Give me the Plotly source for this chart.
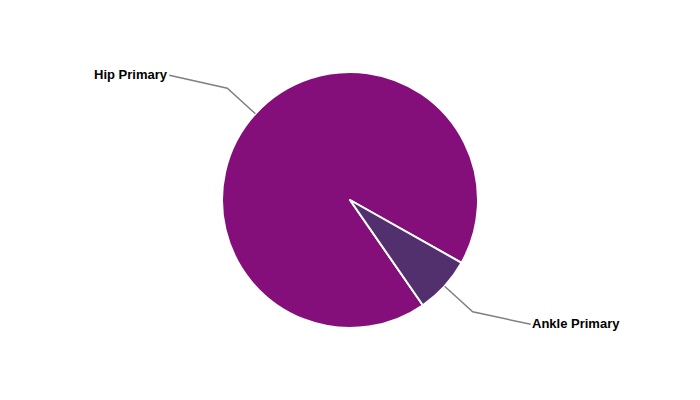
import math
import plotly.graph_objects as go

# Data
labels = ["Hip Primary", "Ankle Primary"]
values = [92.8, 7.2]
colors = ["#850F7A", "#52306E"]

W, H = 700, 400
OFF = 8  # page body margin offset
CX, CY, R = 350 - OFF, 200 - OFF, 128
ROTATION = 145.3  # start angle of first slice, clockwise from 12 o'clock

fig = go.Figure()
fig.add_trace(go.Pie(
    labels=labels,
    values=values,
    sort=False,
    direction="clockwise",
    rotation=ROTATION,
    textinfo="none",
    marker=dict(colors=colors, line=dict(color="white", width=2)),
    domain=dict(x=[(CX - R) / W, (CX + R) / W], y=[1 - (CY + R) / H, 1 - (CY - R) / H]),
    showlegend=False,
))

def px2paper(x, y):
    return x / W, 1 - y / H

total = sum(values)
start = ROTATION
shapes = []
annotations = []
for lab, v in zip(labels, values):
    span = v / total * 360
    mid = math.radians(start + span / 2)
    start += span
    sx, sy = math.sin(mid), -math.cos(mid)
    p0 = (CX + R * sx, CY + R * sy)
    p1 = (CX + (R + 38) * sx, CY + (R + 38) * sy)
    side = 1 if sx >= 0 else -1
    p2 = (p1[0] + side * 58, p1[1] + (12.5 if sy >= 0 else -13))
    pts = [px2paper(*p) for p in (p0, p1, p2)]
    path = "M {} {} L {} {} L {} {}".format(pts[0][0], pts[0][1], pts[1][0], pts[1][1], pts[2][0], pts[2][1])
    shapes.append(dict(type="path", xref="paper", yref="paper", path=path,
                       line=dict(color="#808080", width=1.5)))
    lx, ly = px2paper(p2[0] - side * 1, p2[1] - 0.5)
    annotations.append(dict(x=lx, y=ly, xref="paper", yref="paper", text="<b>" + lab + "</b>",
                            showarrow=False, xanchor="left" if side > 0 else "right", yanchor="middle",
                            font=dict(family="Liberation Sans, Arial", size=13, color="#000000")))

fig.update_layout(
    width=W, height=H,
    margin=dict(l=0, r=0, t=0, b=0),
    paper_bgcolor="white", plot_bgcolor="white",
    shapes=shapes, annotations=annotations,
)
fig.write_html("out.html")
